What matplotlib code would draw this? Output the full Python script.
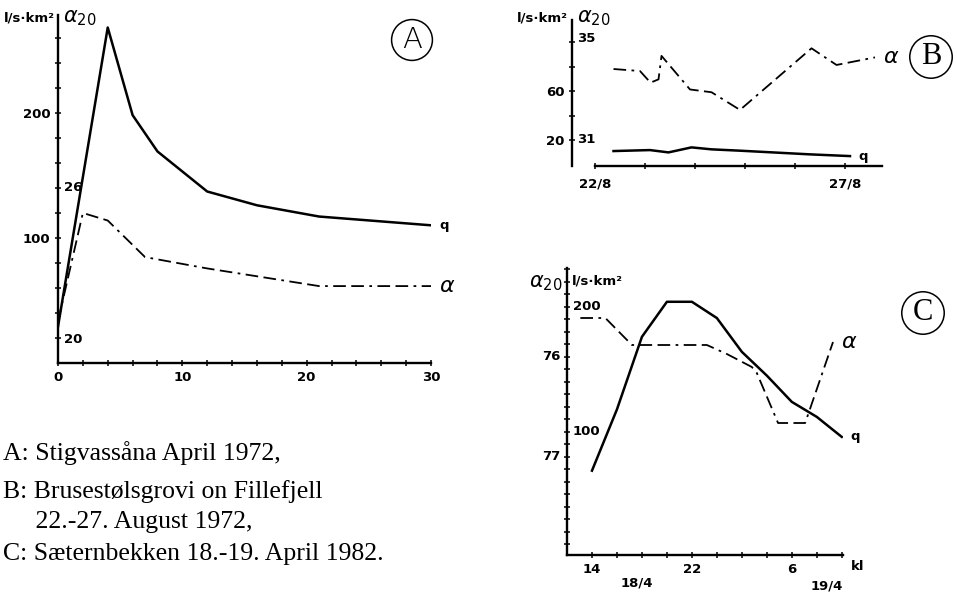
import matplotlib.pyplot as plt

W, H = 957, 598

# Panel A: Stigvassåna April 1972 (x in hours)
a_q_x = [0, 4, 6, 8, 12, 16, 21, 30]
a_q = [29, 268, 198, 169, 137, 126, 117, 110]
a_alpha_x = [0, 2, 4, 7, 12, 21, 30]
a_alpha = [20.7, 25.0, 24.7, 23.25, 22.8, 22.1, 22.1]

# Panel B: Brusestølsgrovi 22.-27. August 1972 (x in days)
b_q_x = [22.37, 23.1, 23.47, 23.93, 24.33, 24.9, 26.3, 27.1]
b_q = [11.0, 11.8, 9.9, 14.0, 12.4, 11.3, 8.3, 6.9]
b_alpha_x = [22.37, 22.9, 23.11, 23.27, 23.33, 23.9, 24.33, 24.9, 26.33, 26.83, 27.6]
b_alpha = [33.81, 33.73, 33.27, 33.40, 34.33, 33.0, 32.89, 32.19, 34.63, 33.97, 34.27]

# Panel C: Sæternbekken 18.-19. April 1982 (x in hours from 18/4 0:00)
c_q_x = [14, 16, 18, 20, 22, 24, 26, 28, 30, 32, 34]
c_q = [69, 118, 176, 204, 204, 191, 164, 145, 124, 112, 96]
c_alpha_x = [13.07, 15.07, 17.2, 23.2, 24.8, 26.8, 27.2, 28.9, 31.07, 33.3]
c_alpha = [75.61, 75.61, 75.88, 75.88, 75.97, 76.10, 76.16, 76.66, 76.66, 75.85]

caption = ["A: Stigvassåna April 1972,",
           "B: Brusestølsgrovi on Fillefjell",
           "     22.-27. August 1972,",
           "C: Sæternbekken 18.-19. April 1982."]

LBL = dict(fontsize=9.5, fontweight='bold', family='DejaVu Sans')
QLW = 1.8
ALW = 1.3
DASH = (0, (7, 3, 1.5, 3, 7, 3))
CIRC = dict(boxstyle='circle,pad=0.22', fc='none', ec='black', lw=1.1)


def rect(l, t, r, b):
    return [l / W, 1 - b / H, (r - l) / W, (b - t) / H]


def ftext(x, y, s, **kw):
    fig.text(x / W, 1 - y / H, s, **kw)


def style(ax):
    for s in ['top', 'right']:
        ax.spines[s].set_visible(False)
    for s in ['left', 'bottom']:
        ax.spines[s].set_linewidth(1.7)
    ax.tick_params(direction='inout', length=5, width=1.1, pad=3)
    for t in ax.get_xticklabels() + ax.get_yticklabels():
        t.set_fontsize(9.5)
        t.set_fontweight('bold')


def twin(ax, lo, hi):
    ax2 = ax.twinx()
    ax2.set_ylim(lo, hi)
    ax2.axis('off')
    return ax2


def side_label(ax2, val, s):
    ax2.annotate(s, xy=(0, val), xycoords=('axes fraction', 'data'),
                 xytext=(4, 0), textcoords='offset points',
                 va='center', ha='left', **LBL)


def end_label(ax, x, y, s, **kw):
    ax.annotate(s, xy=(x, y), xytext=(6, 0), textcoords='offset points',
                va='center', ha='left', **kw)


fig = plt.figure(figsize=(W / 100, H / 100), dpi=100)

# ---------- A ----------
axA = fig.add_axes(rect(58, 15, 431, 363))
axA.plot(a_q_x, a_q, color='black', lw=QLW)
axA.set_xlim(0, 30)
axA.set_ylim(0, 278)
axA.set_xticks(range(0, 31, 2))
axA.set_xticklabels([str(v) if v % 10 == 0 else '' for v in range(0, 31, 2)])
axA.set_yticks(range(20, 261, 20))
axA.set_yticklabels([str(v) if v in (100, 200) else '' for v in range(20, 261, 20)])
style(axA)
axA2 = twin(axA, 19.05, 32.85)
axA2.plot(a_alpha_x, a_alpha, color='black', lw=ALW, linestyle=DASH)
side_label(axA2, 26, '26')
side_label(axA2, 20, '20')
end_label(axA, 30, 110, 'q', **LBL)
end_label(axA2, 30, 22.1, r'$\alpha$', fontsize=16)
ftext(55, 18, 'l/s·km²', ha='right', va='center', **LBL)
ftext(63, 18, r'$\alpha_{20}$', ha='left', va='center', fontsize=15)
ftext(412, 40, 'A', ha='center', va='center', fontsize=21, fontweight='light', bbox=CIRC)

# ---------- B ----------
axB = fig.add_axes(rect(572, 20, 882, 166))
axB.plot(b_q_x, b_q, color='black', lw=QLW)
axB.set_xlim(21.54, 27.74)
axB.set_ylim(-1.2, 118)
axB.set_xticks(range(22, 28))
axB.set_xticklabels(['22/8', '', '', '', '', '27/8'])
axB.set_yticks([20, 40, 60, 80, 100])
axB.set_yticklabels(['20', '', '60', '', ''])
style(axB)
axB.spines['bottom'].set_bounds(22, 27.74)
axB.tick_params(axis='x', pad=6)
axB2 = twin(axB, 29.97, 35.75)
axB2.plot(b_alpha_x, b_alpha, color='black', lw=ALW, linestyle=DASH)
side_label(axB2, 35, '35')
side_label(axB2, 31, '31')
end_label(axB, 27.1, 6.9, 'q', **LBL)
end_label(axB2, 27.6, 34.27, r'$\alpha$', fontsize=16)
ftext(568, 18, 'l/s·km²', ha='right', va='center', **LBL)
ftext(577, 18, r'$\alpha_{20}$', ha='left', va='center', fontsize=15)
ftext(931, 57, 'B', ha='center', va='center', fontsize=22, family='Liberation Serif', bbox=CIRC)

# ---------- C ----------
axC = fig.add_axes(rect(567, 268, 843, 555))
axC.plot(c_q_x, c_q, color='black', lw=QLW)
axC.set_xlim(12, 34.1)
axC.set_ylim(1.6, 231)
xt = list(range(14, 35, 2))
axC.set_xticks(xt)
axC.set_xticklabels(['14' if v == 14 else '22' if v == 22 else '6' if v == 30 else '' for v in xt])
yt = list(range(10, 231, 10))
axC.set_yticks(yt)
axC.set_yticklabels(['' for v in yt])
style(axC)
axC2 = twin(axC, 77.98, 75.11)
axC2.plot(c_alpha_x, c_alpha, color='black', lw=ALW, linestyle=DASH)
for v in (100, 200):
    axC.annotate(str(v), xy=(0, v), xycoords=('axes fraction', 'data'),
                 xytext=(4, 0), textcoords='offset points', va='center', ha='left', **LBL)
for v in (76, 77):
    axC2.annotate(str(v), xy=(0, v), xycoords=('axes fraction', 'data'),
                  xytext=(-5, 0), textcoords='offset points', va='center', ha='right', **LBL)
end_label(axC, 34, 96, 'q', **LBL)
end_label(axC2, 33.3, 75.85, r'$\alpha$', fontsize=16)
ftext(851, 567, 'kl', ha='left', va='center', **LBL)
ftext(637, 583, '18/4', ha='center', va='center', **LBL)
ftext(827, 586, '19/4', ha='center', va='center', **LBL)
ftext(572, 281, 'l/s·km²', ha='left', va='center', **LBL)
ftext(562, 283, r'$\alpha_{20}$', ha='right', va='center', fontsize=15)
ftext(923, 313, 'C', ha='center', va='center', fontsize=22, family='Liberation Serif', bbox=CIRC)

# ---------- caption ----------
for s, yb in zip(caption, [460, 498, 528, 560]):
    ftext(3, yb, s, ha='left', va='baseline', fontsize=18.5, family='Liberation Serif')

fig.savefig('out.png', dpi=100)
